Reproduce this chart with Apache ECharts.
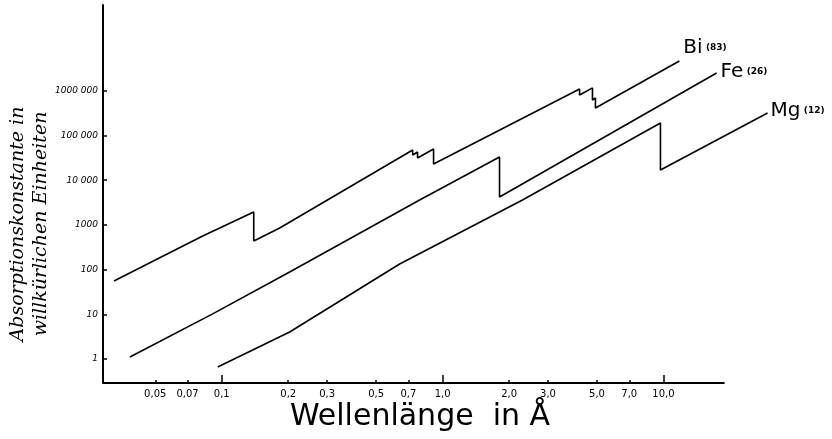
<!DOCTYPE html>
<html>
<head>
<meta charset="utf-8">
<script src="https://cdn.jsdelivr.net/npm/echarts@6/dist/echarts.min.js"></script>
<style>
html, body { margin: 0; padding: 0; background: #fff; }
#chart { width: 832px; height: 439px; }
</style>
</head>
<body>
<div id="chart"></div>
<script>
const biLambda = [0.0325, 0.082, 0.1396, 0.1396, 0.183, 0.732, 0.732, 0.77, 0.77, 0.91, 0.91, 4.17, 4.17, 4.77, 4.77, 4.92, 4.92, 11.8];
const biMu = [55.6, 565, 1944, 437, 852, 47400, 36600, 42800, 31400, 49900, 23000, 1.1e6, 8.05e5, 1.16e6, 6.2e5, 6.9e5, 4.12e5, 4.64e6];

const feLambda = [0.0384, 0.091, 0.203, 0.787, 1.81, 1.81, 17.4];
const feMu = [1.11, 10.2, 88, 3600, 33000, 4200, 2.5e6];

const mgLambda = [0.0959, 0.203, 0.639, 2.30, 9.69, 9.69, 29.6];
const mgMu = [0.662, 4.02, 133, 3600, 1.9e5, 1.69e4, 3.19e5];

// Achsenbeschriftung
const xTickValues = [0.05, 0.07, 0.1, 0.2, 0.3, 0.5, 0.7, 1, 2, 3, 5, 7, 10];
const xTickLabels = ['0,05', '0,07', '0,1', '0,2', '0,3', '0,5', '0,7', '1,0', '2,0', '3,0', '5,0', '7,0', '10,0'];
const xMajorTicks = [0.1, 1, 10];
const yTickValues = [1, 10, 100, 1000, 10000, 100000, 1000000];
const yTickLabels = ['1', '10', '100', '1000', '10 000', '100 000', '1000 000'];

// Achsenbereich; die x-Achse ist nur bis xAxisEnd gezeichnet, die Kurven laufen weiter
const xMin = 0.029, xMax = 31, xAxisEnd = 18.9;
const yMin = 0.29, yMax = 8.3e7;

function pick(values, labels, v) {
  const i = values.findIndex(t => Math.abs(Math.log10(t) - Math.log10(v)) < 1e-6);
  return i >= 0 ? labels[i] : '';
}

function zip(xs, ys) {
  return xs.map((x, i) => [x, ys[i]]);
}

const chart = echarts.init(document.getElementById('chart'));

const lineStyle = { color: '#000', width: 1.6 };

function makeSeries(name, xs, ys, big, small, offset) {
  return {
    name: name,
    type: 'line',
    data: zip(xs, ys),
    symbol: 'none',
    clip: false,
    lineStyle: lineStyle,
    animation: false,
    endLabel: {
      show: true,
      formatter: '{b|' + big + '} {s|' + small + '}',
      distance: 4,
      offset: offset,
      rich: {
        b: { fontFamily: 'DejaVu Sans', fontSize: 20, color: '#000' },
        s: { fontFamily: 'DejaVu Sans', fontSize: 9, fontWeight: 'bold', color: '#000' }
      }
    }
  };
}

const series = [
  makeSeries('Bi', biLambda, biMu, 'Bi', '(83)', [0, -13]),
  makeSeries('Fe', feLambda, feMu, 'Fe', '(26)', [0, -1]),
  makeSeries('Mg', mgLambda, mgMu, 'Mg', '(12)', [-1, -2])
];

// x-Achsenlinie bis 18,9 Å
series[0].markLine = {
  silent: true,
  symbol: 'none',
  animation: false,
  label: { show: false },
  lineStyle: { color: '#000', width: 2, type: 'solid' },
  data: [[{ coord: [xMin, yMin] }, { coord: [xAxisEnd, yMin] }]]
};

const option = {
  backgroundColor: '#fff',
  animation: false,
  grid: { left: 103, right: 60, top: 5, bottom: 56 },
  xAxis: [
    {
      type: 'log',
      min: xMin,
      max: xMax,
      position: 'bottom',
      axisLine: { show: false },
      axisTick: { show: true, inside: true, length: 3, customValues: xTickValues, lineStyle: { color: '#000', width: 1.5 } },
      axisLabel: {
        show: true,
        customValues: xTickValues,
        margin: 6,
        fontFamily: 'DejaVu Sans',
        fontSize: 10,
        color: '#000',
        formatter: v => pick(xTickValues, xTickLabels, v)
      },
      splitLine: { show: false },
      minorTick: { show: false }
    },
    {
      type: 'log',
      min: xMin,
      max: xMax,
      position: 'bottom',
      axisLine: { show: false },
      axisTick: { show: true, inside: true, length: 8, customValues: xMajorTicks, lineStyle: { color: '#000', width: 1.5 } },
      axisLabel: { show: false },
      splitLine: { show: false }
    }
  ],
  yAxis: {
    type: 'log',
    min: yMin,
    max: yMax,
    axisLine: { show: true, lineStyle: { color: '#000', width: 2 } },
    axisTick: { show: true, inside: true, length: 4, customValues: yTickValues, lineStyle: { color: '#000', width: 1.5 } },
    axisLabel: {
      show: true,
      customValues: yTickValues,
      margin: 5,
      fontFamily: 'DejaVu Sans',
      fontStyle: 'italic',
      fontSize: 9,
      color: '#000',
      formatter: v => pick(yTickValues, yTickLabels, v)
    },
    splitLine: { show: false }
  },
  graphic: [
    {
      type: 'text',
      x: 30,
      y: 224,
      rotation: Math.PI / 2,
      style: {
        text: 'Absorptionskonstante in\nwillkürlichen Einheiten',
        fontFamily: 'DejaVu Serif',
        fontStyle: 'italic',
        fontSize: 19,
        lineHeight: 23,
        fill: '#000',
        align: 'center',
        verticalAlign: 'middle'
      }
    },
    {
      type: 'text',
      x: 420,
      y: 417,
      style: {
        text: 'Wellenlänge  in Å',
        fontFamily: 'DejaVu Sans',
        fontSize: 30,
        fill: '#000',
        align: 'center',
        verticalAlign: 'middle'
      }
    }
  ],
  series: series
};

chart.setOption(option);
</script>
</body>
</html>
